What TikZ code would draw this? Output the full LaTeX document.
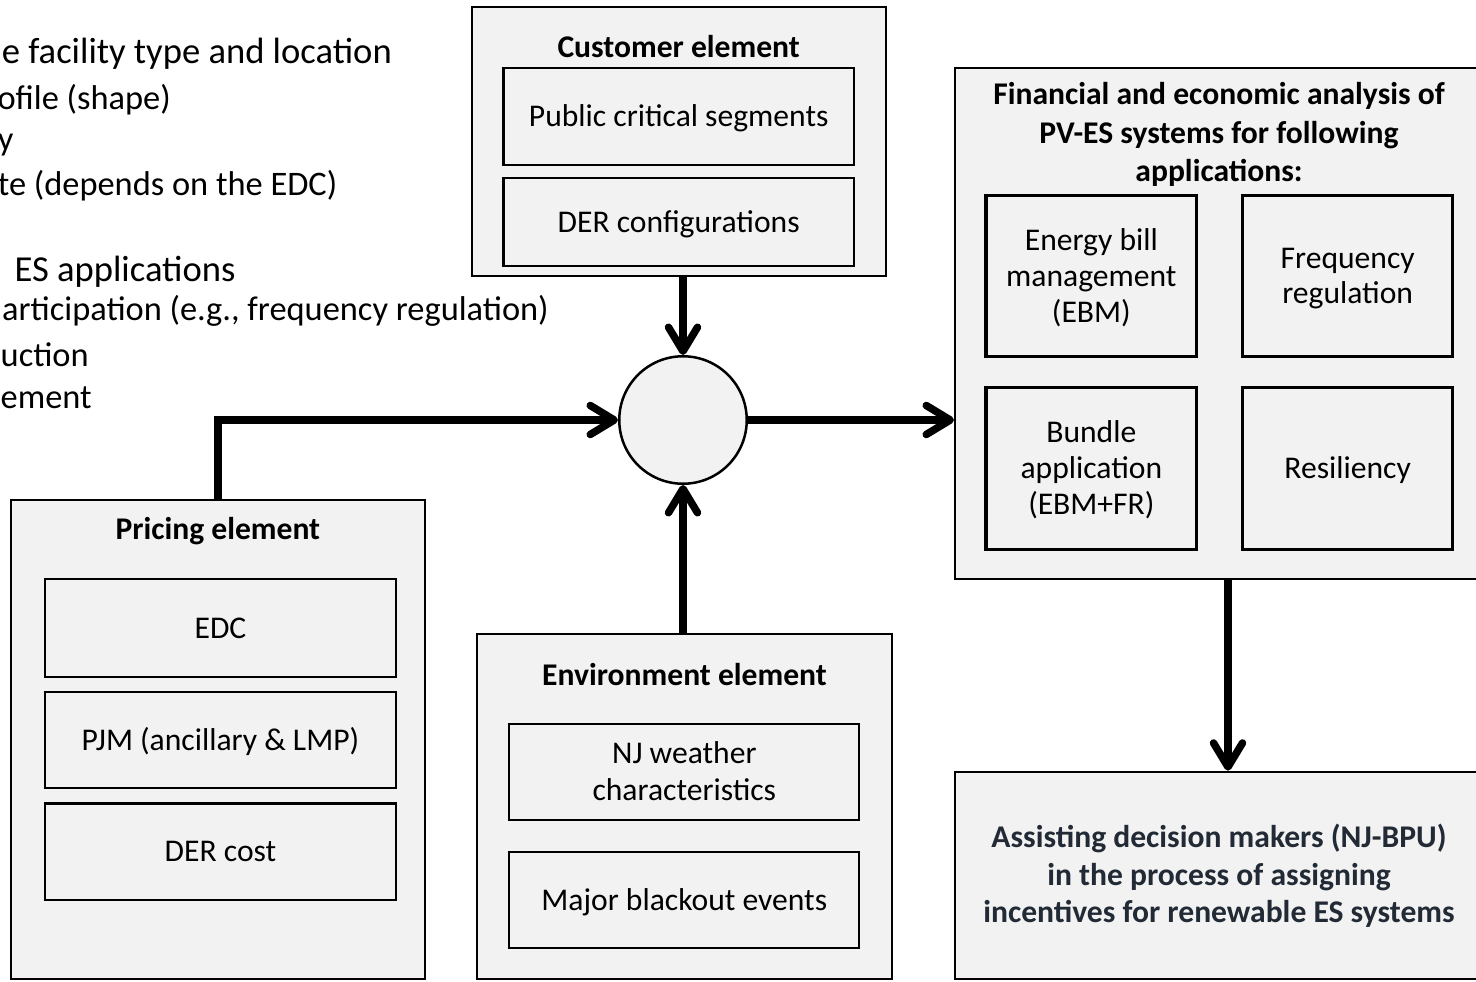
\documentclass[tikz,border=0pt]{standalone}
\usepackage{fontspec}
\setmainfont{Carlito}
\usetikzlibrary{arrows.meta}
\definecolor{boxfill}{HTML}{F2F2F2}
\definecolor{darktext}{HTML}{222A35}
\newcommand\regfont{\fontsize{31.6pt}{36.5pt}\selectfont}
\newcommand\boldfont{\fontsize{31.6pt}{38.3pt}\selectfont\bfseries}
\newcommand\mlines[2]{\vtop{\baselineskip=#1\halign{\hfil##\hfil\cr#2\crcr}}}
\begin{document}
\begin{tikzpicture}[x=1pt,y=-1pt,
  obox/.style={draw=black, line width=2pt, fill=boxfill, inner sep=0pt},
  ibox/.style={draw=black, line width=2.3pt, fill=boxfill, inner sep=0pt, font=\regfont},
  abox/.style={draw=black, line width=3.4pt, fill=boxfill, inner sep=0pt, font=\regfont},
  nl/.style={text height=20pt, text depth=#1},
  ttl/.style={inner sep=0pt, font=\boldfont, text height=20pt, text depth=0pt},
  lvla/.style={inner sep=0pt, anchor=base east, font=\fontsize{36.6pt}{44pt}\selectfont},
  lvlb/.style={inner sep=0pt, anchor=base east, font=\fontsize{34.4pt}{42pt}\selectfont},
  conn/.style={line width=7.5pt, -{Straight Barb[length=24pt, width=29pt, round]}}
]
\useasboundingbox (0,0) rectangle (1476,982);
\clip (0,0) rectangle (1476,982);

% top-left partially visible list
\node[lvla] (l1) at (392,63.3) {e facility type and location};
\node[lvlb] (l2) at (171,110) {ofile (shape)};
\node[lvlb] (l3) at (13.6,150) {y};
\node[lvlb] (l4) at (337.5,195.7) {te (depends on the EDC)};
\node[lvla] (l5) at (235.7,281.7) {ES applications};
\node[lvlb, anchor=base west] (l6) at (2,320) {articipation (e.g., frequency regulation)};
\node[lvlb, anchor=base west] (l7) at (0.5,366.7) {uction};
\node[lvlb, anchor=base west] (l8) at (0.5,408) {ement};

% customer element
\node[obox, minimum width=414pt, minimum height=268.4pt] (cust) at (678.7,141.5) {};
\node[ttl] (custt) at (678.7,47.1) {Customer element};
\node[ibox, minimum width=350.7pt, minimum height=96.7pt, nl=0pt] (pcs) at (678.7,116.7) {Public critical segments};
\node[ibox, minimum width=350.7pt, minimum height=87.4pt, nl=0pt] (derc) at (678.7,222) {DER configurations};

% pricing element
\node[obox, minimum width=414.3pt, minimum height=479pt] (pric) at (217.85,739.5) {};
\node[ttl] (prict) at (217.85,529.8) {Pricing element};
\node[ibox, minimum width=351pt, minimum height=97.4pt, nl=0pt] (edc) at (220.5,628) {EDC};
\node[ibox, minimum width=351pt, minimum height=96.6pt, nl=0pt] (pjm) at (220.5,740) {PJM (ancillary \& LMP)};
\node[ibox, minimum width=351pt, minimum height=96.7pt, nl=0pt] (derco) at (220.5,851.7) {DER cost};

% environment element
\node[obox, minimum width=414.4pt, minimum height=345pt] (env) at (684.5,806.5) {};
\node[ttl] (envt) at (684.5,675.8) {Environment element};
\node[ibox, minimum width=350pt, minimum height=96pt, nl=36.7pt] (njw) at (684.3,772) {\mlines{36.7pt}{NJ weather\cr characteristics}};
\node[ibox, minimum width=350pt, minimum height=96.6pt, nl=0pt] (mbe) at (684.3,900) {Major blackout events};

% central junction
\node[circle, draw=black, line width=2.5pt, fill=boxfill, minimum size=127.5pt, inner sep=0pt] (circ) at (683,420) {};

% financial analysis
\node[obox, minimum width=528pt, minimum height=511.6pt] (fin) at (1219,323.5) {};
\node[ttl, text depth=76.6pt] (fint) at (1219,133.2) {\mlines{38.3pt}{Financial and economic analysis of\cr PV-ES systems for following\cr applications:}};
\node[abox, minimum width=210.7pt, minimum height=161pt, nl=72pt] (ebm) at (1091.35,276.2) {\mlines{36pt}{Energy bill\cr management\cr (EBM)}};
\node[abox, minimum width=210pt, minimum height=161pt, nl=35pt] (freq) at (1347.7,276.2) {\mlines{35pt}{Frequency\cr regulation}};
\node[abox, minimum width=210.7pt, minimum height=162pt, nl=72pt] (bund) at (1091.35,468.3) {\mlines{36pt}{Bundle\cr application\cr (EBM+FR)}};
\node[abox, minimum width=210pt, minimum height=162pt, nl=0pt] (resi) at (1347.7,468.3) {Resiliency};

% final box
\node[obox, minimum width=528pt, minimum height=207.3pt, font=\boldfont, text=darktext, nl=75pt] (dec) at (1219,875.35) {\mlines{37.5pt}{Assisting decision makers (NJ-BPU)\cr in the process of assigning\cr incentives for renewable ES systems}};

% connectors
\coordinate (fdown) at (1228,0);
\draw[conn] (circ |- cust.south) -- (circ.north);
\draw[conn] (circ |- env.north) -- (circ.south);
\draw[conn] (pric.north) |- (circ.west);
\draw[conn] (circ.east) -- (circ.east -| fin.west);
\draw[conn] (fin.south -| fdown) -- (dec.north -| fdown);
\end{tikzpicture}
\end{document}
